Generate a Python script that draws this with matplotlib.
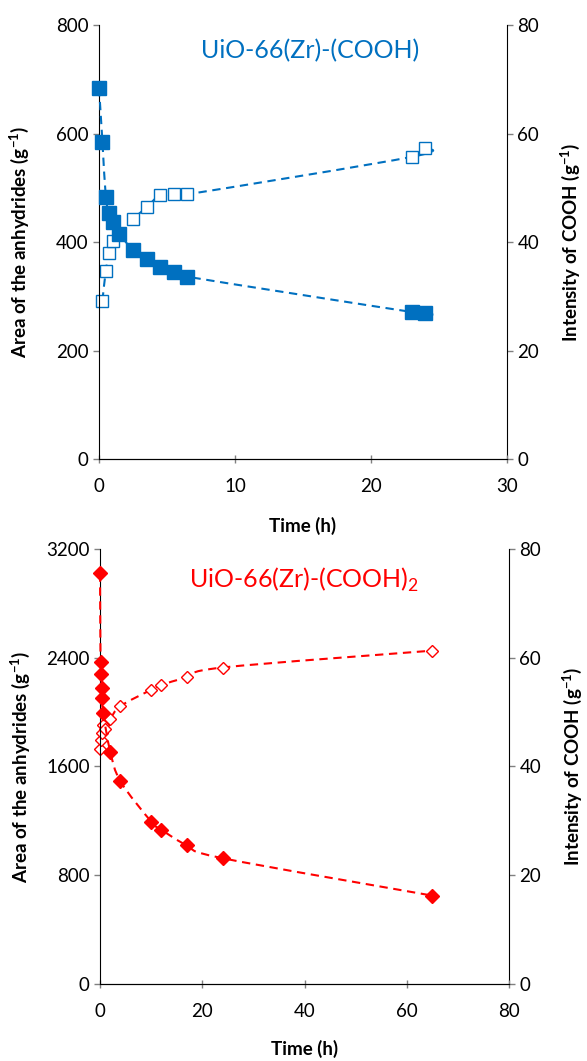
import matplotlib
matplotlib.use('Agg')
from matplotlib import pyplot as plt
from matplotlib.path import Path
from matplotlib.patches import PathPatch

plt.rcParams['font.family'] = ['Lato', 'DejaVu Sans']

# UiO-66(Zr)-(COOH)
time_a_anh = [0, 0.25, 0.5, 0.75, 1, 1.5, 2.5, 3.5, 4.5, 5.5, 6.5, 23, 24]
anhydride_a = [684, 585, 483, 453, 436, 415, 385, 369, 354, 344, 336, 271, 270]
time_a_cooh = [0.25, 0.5, 0.75, 1, 2.5, 3.5, 4.5, 5.5, 6.5, 23, 24]
cooh_a = [29.2, 34.7, 37.9, 40.1, 44.2, 46.4, 48.7, 48.8, 48.8, 55.7, 57.4]

# UiO-66(Zr)-(COOH)2
time_b_anh = [0, 0.1, 0.2, 0.3, 0.4, 0.6, 2, 4, 10, 12, 17, 24, 65]
anhydride_b = [3020, 2365, 2280, 2175, 2100, 1995, 1710, 1490, 1195, 1135, 1020, 925, 650]
time_b_cooh = [0, 0.17, 0.33, 0.5, 1, 2, 4, 10, 12, 17, 24, 65]
cooh_b = [43.3, 44.9, 46.1, 47.6, 46.8, 48.7, 51.1, 54.1, 55.0, 56.4, 58.2, 61.3]

blue = '#0070C0'
red = '#FF0000'


def smooth_line(ax, xs, ys, color):
    # Excel-style smoothed line through the points (cubic Bezier segments)
    verts = [(xs[0], ys[0])]
    codes = [Path.MOVETO]
    n = len(xs)
    for i in range(n - 1):
        x0, y0 = (xs[i - 1], ys[i - 1]) if i > 0 else (xs[i], ys[i])
        x1, y1 = xs[i], ys[i]
        x2, y2 = xs[i + 1], ys[i + 1]
        x3, y3 = (xs[i + 2], ys[i + 2]) if i + 2 < n else (x2, y2)
        c1 = (x1 + (x2 - x0) / 6.0, y1 + (y2 - y0) / 6.0)
        c2 = (x2 - (x3 - x1) / 6.0, y2 - (y3 - y1) / 6.0)
        verts += [c1, c2, (x2, y2)]
        codes += [Path.CURVE4, Path.CURVE4, Path.CURVE4]
    patch = PathPatch(Path(verts, codes), facecolor='none', edgecolor=color,
                      lw=1.5, linestyle=(0, (4, 2.7)), zorder=3, clip_on=False)
    ax.add_patch(patch)


def style_axes(ax, ax2):
    for a in (ax, ax2):
        a.spines['top'].set_visible(False)
        a.tick_params(labelsize=13.5, length=4, color='#808080', width=1)
    ax.spines['right'].set_visible(False)
    ax.tick_params(axis='x', direction='inout', length=6, pad=11)
    ax2.spines['left'].set_visible(False)
    ax2.spines['right'].set_visible(True)


ylab = 'Area of the anhydrides (g$^{\\mathregular{-1}}$)'
ylab2 = 'Intensity of COOH (g$^{\\mathregular{-1}}$)'
lab_size = 13.5

fig = plt.figure(figsize=(5.87, 10.61), dpi=100)

# top panel
ax = fig.add_axes([0.1687, 0.5674, 0.695, 0.409])
ax2 = ax.twinx()
ax.set_zorder(ax2.get_zorder() + 1)
ax.patch.set_visible(False)
smooth_line(ax, time_a_anh, anhydride_a, blue)
ax.plot(time_a_anh, anhydride_a, 's', color=blue, ms=9.5, zorder=4, clip_on=False)
smooth_line(ax2, time_a_cooh, cooh_a, blue)
ax2.plot(time_a_cooh, cooh_a, 's', mfc='white', mec=blue, mew=1.0, ms=9, zorder=4,
         clip_on=False)
ax.set_xlim(0, 30)
ax.set_ylim(0, 800)
ax2.set_ylim(0, 80)
ax.set_xticks([0, 10, 20, 30])
ax.set_yticks([0, 200, 400, 600, 800])
ax2.set_yticks([0, 20, 40, 60, 80])
style_axes(ax, ax2)
ax.set_xlabel('Time (h)', fontsize=lab_size, fontweight='bold')
ax.xaxis.set_label_coords(0.5, -0.133)
ax.set_ylabel(ylab, fontsize=lab_size, fontweight='bold')
ax.yaxis.set_label_coords(-0.166, 0.5)
ax2.set_ylabel(ylab2, fontsize=lab_size, fontweight='bold')
ax2.yaxis.set_label_coords(1.125, 0.5)
ax.text(0.517, 0.942, 'UiO-66(Zr)-(COOH)', transform=ax.transAxes, color=blue,
        fontsize=18, ha='center', va='center')

# bottom panel
bx = fig.add_axes([0.1704, 0.0726, 0.6967, 0.41])
bx2 = bx.twinx()
bx.set_zorder(bx2.get_zorder() + 1)
bx.patch.set_visible(False)
smooth_line(bx, time_b_anh, anhydride_b, red)
bx.plot(time_b_anh, anhydride_b, 'D', color=red, ms=7.5, zorder=4, clip_on=False)
smooth_line(bx2, time_b_cooh, cooh_b, red)
bx2.plot(time_b_cooh, cooh_b, 'D', mfc='white', mec=red, mew=1.0, ms=6.5, zorder=4,
         clip_on=False)
bx.set_xlim(0, 80)
bx.set_ylim(0, 3200)
bx2.set_ylim(0, 80)
bx.set_xticks([0, 20, 40, 60, 80])
bx.set_yticks([0, 800, 1600, 2400, 3200])
bx2.set_yticks([0, 20, 40, 60, 80])
style_axes(bx, bx2)
bx.set_xlabel('Time (h)', fontsize=lab_size, fontweight='bold')
bx.xaxis.set_label_coords(0.5, -0.128)
bx.set_ylabel(ylab, fontsize=lab_size, fontweight='bold')
bx.yaxis.set_label_coords(-0.166, 0.5)
bx2.set_ylabel(ylab2, fontsize=lab_size, fontweight='bold')
bx2.yaxis.set_label_coords(1.125, 0.5)
bx.text(0.5, 0.929, 'UiO-66(Zr)-(COOH)$_{\\mathregular{2}}$', transform=bx.transAxes,
        color=red, fontsize=18, ha='center', va='center')

plt.savefig('out.png', dpi=100)
